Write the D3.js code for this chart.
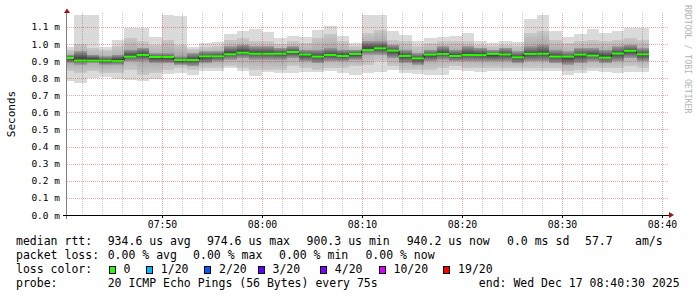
<!DOCTYPE html>
<html><head><meta charset="utf-8">
<script src="https://cdn.jsdelivr.net/npm/d3@7"></script>
<style>
body{margin:0;background:#fff}
svg{display:block}
text{font-family:"DejaVu Sans Mono",monospace}
</style>
</head><body>
<svg id="c" width="697" height="297"></svg>
<script>
// ---- data (values in ms) ----
const xStart = "07:40:30", xEnd = "08:40:30";
const stepSeconds = 75;
const yMax = 1.1695;
const stepEnds = ["07:41:12","07:42:27","07:43:42","07:44:57","07:46:12","07:47:27","07:48:42","07:49:57",
"07:51:12","07:52:27","07:53:42","07:54:57","07:56:12","07:57:27","07:58:42","07:59:57",
"08:01:12","08:02:27","08:03:42","08:04:57","08:06:12","08:07:27","08:08:42","08:09:57",
"08:11:12","08:12:27","08:13:42","08:14:57","08:16:12","08:17:27","08:18:42","08:19:57",
"08:21:12","08:22:27","08:23:42","08:24:57","08:26:12","08:27:27","08:28:42","08:29:57",
"08:31:12","08:32:27","08:33:42","08:34:57","08:36:12","08:37:27","08:38:42"];
const median = [0.918,0.902,0.902,0.902,0.900,0.926,0.936,0.924,0.924,0.906,0.906,0.928,0.928,0.940,0.949,0.943,
0.943,0.943,0.953,0.938,0.926,0.936,0.930,0.942,0.964,0.975,0.961,0.930,0.916,0.938,0.942,0.930,
0.936,0.935,0.942,0.939,0.922,0.942,0.943,0.926,0.926,0.938,0.932,0.920,0.944,0.960,0.940];
// outer smoke (min / max ping)
const hi1 = [0.985,1.25,1.25,0.985,1.023,1.094,1.094,1.039,1.25,1.164,0.980,1.008,1.013,1.060,1.078,1.088,
1.068,1.033,1.047,1.039,1.082,1.105,1.047,1.004,1.25,1.25,1.076,1.053,1.018,1.033,1.043,1.047,
1.064,1.016,1.008,1.018,1.010,1.144,1.25,1.076,1.043,1.058,1.088,1.067,1.076,1.096,1.096];
const lo1 = [0.784,0.774,0.803,0.805,0.797,0.789,0.784,0.797,0.825,0.832,0.818,0.842,0.844,0.860,0.842,0.815,
0.836,0.832,0.832,0.834,0.838,0.842,0.828,0.820,0.831,0.836,0.846,0.830,0.824,0.820,0.820,0.845,
0.842,0.838,0.844,0.844,0.844,0.842,0.841,0.842,0.820,0.829,0.842,0.834,0.830,0.838,0.838];
// middle smoke
const hi2 = [0.967,1.000,0.977,0.967,0.986,1.035,1.016,0.996,1.025,0.996,0.973,0.980,0.986,1.025,1.035,1.016,
1.016,1.000,1.016,1.006,1.035,1.058,1.016,0.986,1.064,1.084,1.025,1.016,0.986,1.006,1.016,1.016,
1.016,0.996,0.986,0.996,0.990,1.064,1.078,1.025,1.006,1.020,1.025,1.016,1.025,1.035,1.025];
const lo2 = [0.840,0.830,0.840,0.830,0.830,0.850,0.821,0.830,0.850,0.860,0.850,0.860,0.860,0.870,0.860,0.850,
0.850,0.850,0.870,0.860,0.850,0.860,0.860,0.870,0.879,0.899,0.870,0.850,0.850,0.850,0.860,0.870,
0.860,0.860,0.860,0.860,0.860,0.860,0.860,0.860,0.840,0.850,0.860,0.860,0.860,0.870,0.860];
// inner smoke
const hi3 = [0.938,0.957,0.938,0.928,0.938,0.967,0.977,0.947,0.947,0.928,0.947,0.957,0.957,0.986,0.996,0.986,
0.986,0.977,0.986,0.967,0.967,0.977,0.967,0.967,1.016,1.016,0.996,0.967,0.947,0.967,0.986,0.967,
0.986,0.977,0.967,0.977,0.957,0.986,0.996,0.967,0.957,0.977,0.977,0.967,0.986,0.996,0.977];
const lo3 = [0.889,0.879,0.889,0.879,0.879,0.899,0.899,0.889,0.889,0.879,0.870,0.889,0.899,0.909,0.918,0.909,
0.909,0.909,0.918,0.899,0.889,0.899,0.899,0.909,0.938,0.938,0.918,0.889,0.879,0.899,0.909,0.899,
0.899,0.899,0.899,0.899,0.889,0.899,0.899,0.889,0.879,0.889,0.899,0.889,0.899,0.918,0.899];
const yTicks = [0,0.1,0.2,0.3,0.4,0.5,0.6,0.7,0.8,0.9,1.0,1.1];
const xTickLabels = ["07:50","08:00","08:10","08:20","08:30","08:40"];
const lossLabels = ["0","1/20","2/20","3/20","4/20","10/20","19/20"];
const lossColors = ["#26ff00","#00b8ff","#0059ff","#5e00ff","#7e00ff","#dd00ff","#ff0000"];
const rttRow = ["median rtt:","934.6 us avg","974.6 us max","900.3 us min","940.2 us now","0.0 ms sd","57.7","am/s"];
const lossRow = ["packet loss:","0.00 % avg","0.00 % max","0.00 % min","0.00 % now"];
const probeRow = ["probe:","20 ICMP Echo Pings (56 Bytes) every 75s","end: Wed Dec 17 08:40:30 2025"];

// ---- layout ----
const rttX = [16,107.7,206.9,306.6,406.7,507,585,635];
const lossX = [16,107.7,193.1,279,365.4];
const boxX = [108.6,146,204.3,257.7,320,378.7,443.3];
const probeX = [16,107.7,478.8];

const parseT = d3.timeParse("%H:%M:%S");
const svg = d3.select("#c");
const L=67,R=667,T=15,B=215;
const x = d3.scaleTime().domain([parseT(xStart),parseT(xEnd)]).range([L,R]);
const y = d3.scaleLinear().domain([0,yMax]).range([B,T]);

const steps = stepEnds.map((e,i)=>{
  const end=parseT(e);
  return {end,start:new Date(+end-stepSeconds*1000),med:median[i],
    bands:[[lo1[i],hi1[i]],[lo2[i],hi2[i]],[lo3[i],hi3[i]]]};
});

const defs = svg.append("defs");
defs.append("clipPath").attr("id","plot").append("rect").attr("x",L).attr("y",T).attr("width",R-L).attr("height",B-T);
const g1 = defs.append("linearGradient").attr("id","gmid").attr("x1",0).attr("y1",0).attr("x2",0).attr("y2",1);
[[0,"#c8c8c8"],[0.5,"#a4a4a4"],[1,"#c8c8c8"]].forEach(s=>g1.append("stop").attr("offset",s[0]).attr("stop-color",s[1]));
const g2 = defs.append("linearGradient").attr("id","gcore").attr("x1",0).attr("y1",0).attr("x2",0).attr("y2",1);
[[0,"#9c9c9c"],[0.5,"#474747"],[1,"#9c9c9c"]].forEach(s=>g2.append("stop").attr("offset",s[0]).attr("stop-color",s[1]));
const bandFill = ["#dadada","url(#gmid)","url(#gcore)"];

const plot = svg.append("g").attr("clip-path","url(#plot)");
[0,1,2].forEach(b=>{
  plot.append("g").selectAll("rect").data(steps).join("rect")
    .attr("x",d=>x(d.start)).attr("width",d=>x(d.end)-x(d.start))
    .attr("y",d=>y(d.bands[b][1])).attr("height",d=>y(d.bands[b][0])-y(d.bands[b][1]))
    .attr("fill",bandFill[b]).attr("shape-rendering","crispEdges");
});

// grid on top of smoke
const grid = svg.append("g");
const minorT = x.ticks(d3.timeMinute.every(2)).filter(t=>t.getMinutes()%10!==0);
const majorT = x.ticks(d3.timeMinute.every(10));
grid.selectAll(".vmin").data(minorT).join("line")
  .attr("x1",d=>Math.round(x(d))+0.5).attr("x2",d=>Math.round(x(d))+0.5).attr("y1",T-2).attr("y2",B)
  .attr("stroke","rgba(0,0,0,0.22)").attr("stroke-dasharray","1,1");
grid.selectAll(".vmaj").data(majorT).join("line")
  .attr("x1",d=>Math.round(x(d))+0.5).attr("x2",d=>Math.round(x(d))+0.5).attr("y1",T-2).attr("y2",B)
  .attr("stroke","rgba(200,0,0,0.35)").attr("stroke-dasharray","1,1");
grid.selectAll(".hmaj").data(yTicks.filter(v=>v>0)).join("line")
  .attr("x1",L).attr("x2",R+2).attr("y1",d=>Math.round(y(d))+0.5).attr("y2",d=>Math.round(y(d))+0.5)
  .attr("stroke","rgba(200,0,0,0.35)").attr("stroke-dasharray","1,1");

// median
const medLine = d3.line().x(d=>x(d[0])).y(d=>y(d[1])).curve(d3.curveStepAfter);
const pts = steps.map(d=>[d.start,d.med]).concat([[steps[steps.length-1].end,steps[steps.length-1].med]]);
plot.append("path").attr("d",medLine(pts)).attr("fill","none").attr("stroke","#202020").attr("stroke-width",1);
plot.append("g").selectAll("line").data(steps).join("line")
  .attr("x1",d=>x(d.start)).attr("x2",d=>x(d.end)).attr("y1",d=>y(d.med)).attr("y2",d=>y(d.med))
  .attr("stroke",lossColors[0]).attr("stroke-width",2);

// axes
const yAxis = d3.axisLeft(y).tickValues(yTicks).tickSize(0).tickPadding(7).tickFormat(d=>d.toFixed(1)+" m");
const ya = svg.append("g").attr("transform",`translate(${L},0)`).call(yAxis);
ya.select(".domain").remove();
ya.selectAll("text").attr("font-family","DejaVu Sans Mono").attr("font-size","9.5px").attr("fill","#000");

const xAxis = d3.axisBottom(x).tickValues(xTickLabels.map(s=>parseT(s+":00"))).tickSize(3).tickPadding(3)
  .tickFormat(d3.timeFormat("%H:%M"));
const xa = svg.append("g").attr("transform",`translate(0,${B})`).call(xAxis);
xa.select(".domain").remove();
xa.selectAll("line").attr("stroke","#000");
xa.selectAll("text").attr("font-family","DejaVu Sans Mono").attr("font-size","9.8px").attr("fill","#000");

svg.append("line").attr("x1",66.5).attr("x2",66.5).attr("y1",12).attr("y2",219).attr("stroke","#808080");
svg.append("line").attr("x1",63).attr("x2",670).attr("y1",215).attr("y2",215).attr("stroke","#000").attr("shape-rendering","crispEdges");
svg.append("path").attr("d","M64,13L70,13L67,8.5Z").attr("fill","#a01010");
svg.append("path").attr("d","M669,212L669,218L674,215Z").attr("fill","#a01010");

// titles
svg.append("text").attr("transform","translate(15,114) rotate(-90)").attr("text-anchor","middle")
  .attr("font-size","11px").attr("fill","#000").text("Seconds");
svg.append("text").attr("transform","translate(685,5) rotate(90)").attr("text-anchor","start")
  .attr("font-size","8.2px").attr("fill","#b4b4b4").text("RRDTOOL / TOBI OETIKER");

// legend
const leg = svg.append("g").attr("font-size","11.5px").attr("fill","#000");
const row = (arr,xs,yb)=>leg.append("g").selectAll("text").data(arr).join("text")
  .attr("x",(d,i)=>xs[i]).attr("y",yb).attr("xml:space","preserve").style("white-space","pre").text(d=>d);
row(rttRow,rttX,245);
row(lossRow,lossX,259);
row(["loss color:"],[16],273);
row(probeRow,probeX,287);
leg.append("g").selectAll("rect").data(lossColors).join("rect")
  .attr("x",(d,i)=>boxX[i]+0.5).attr("y",266).attr("width",6).attr("height",7)
  .attr("fill",d=>d).attr("stroke","#000").attr("stroke-width",1).attr("shape-rendering","crispEdges");
leg.append("g").selectAll("text").data(lossLabels).join("text")
  .attr("x",(d,i)=>boxX[i]+14.8).attr("y",273).text(d=>d);
</script>
</body></html>
